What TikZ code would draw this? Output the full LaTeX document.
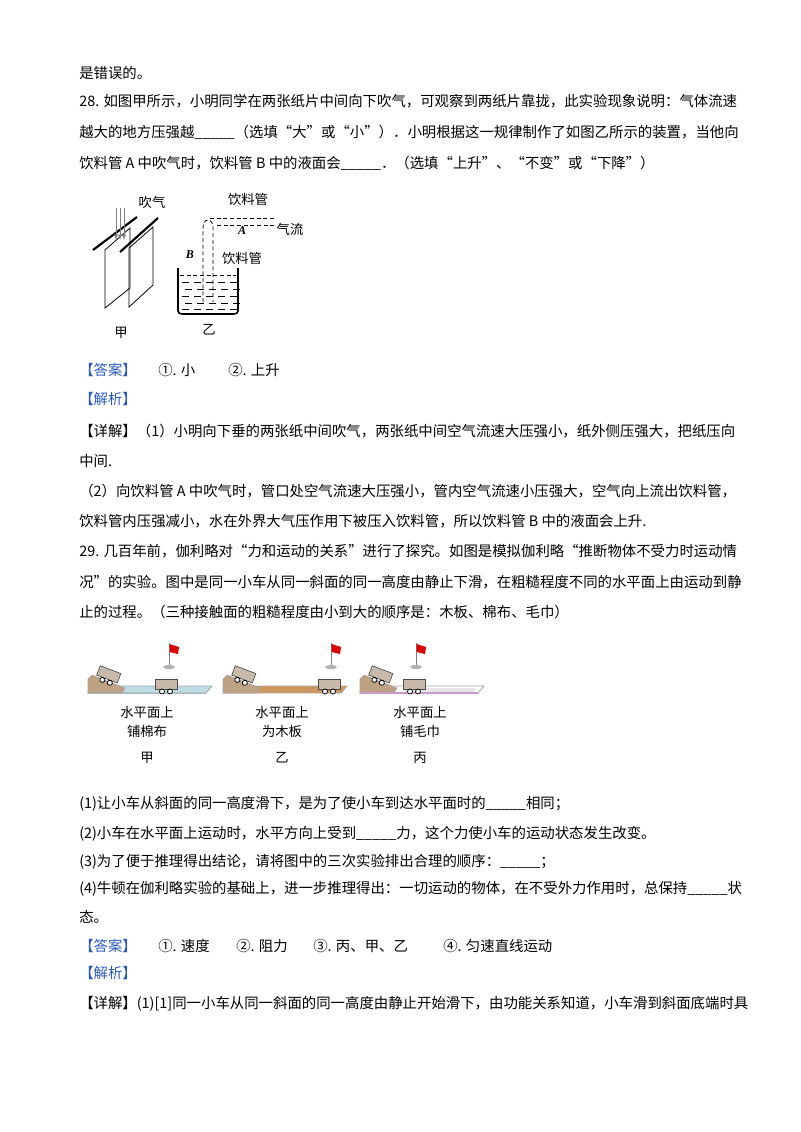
\documentclass[tikz,border=0pt]{standalone}
\usepackage{fontspec}
\setmainfont{Noto Sans CJK SC}
\newfontfamily\latin{Liberation Serif}
\definecolor{ansblue}{RGB}{40,90,190}
\definecolor{board}{RGB}{190,220,228}
\definecolor{wood}{RGB}{205,150,95}
\definecolor{ramp}{RGB}{190,160,130}
\definecolor{carc}{RGB}{200,185,170}
\begin{document}
\begin{tikzpicture}[x=0.75pt,y=-0.75pt,
  ln/.style={anchor=west,inner sep=0pt,font=\fontsize{10.8}{12}\selectfont},
  lab/.style={inner sep=0pt,font=\fontsize{10}{12}\selectfont},
  dsh/.style={densely dashed,line width=0.6pt}]
\useasboundingbox (0,0) rectangle (800,1132);
\newcommand\bl{\_\_\_\_\_}
\node[ln] (t1) at (79,73) {是错误的。};
\node[ln] (t2) at (79,101) {28. 如图甲所示，小明同学在两张纸片中间向下吹气，可观察到两纸片靠拢，此实验现象说明：气体流速};
\node[ln] (t3) at (79,132) {越大的地方压强越\bl（选填“大”或“小”）．小明根据这一规律制作了如图乙所示的装置，当他向};
\node[ln] (t4) at (79,163) {饮料管 A 中吹气时，饮料管 B 中的液面会\bl．（选填“上升”、“不变”或“下降”）};
\node[ln,text=ansblue] (a1) at (79,370) {【答案】};
\node[ln] (a1b) at (158,370) {①. 小};
\node[ln] (a1c) at (228,370) {②. 上升};
\node[ln,text=ansblue] (j1) at (79,399) {【解析】};
\node[ln] (d1) at (79,431) {【详解】（1）小明向下垂的两张纸中间吹气，两张纸中间空气流速大压强小，纸外侧压强大，把纸压向};
\node[ln] (d2) at (79,461) {中间.};
\node[ln] (d3) at (79,491) {（2）向饮料管 A 中吹气时，管口处空气流速大压强小，管内空气流速小压强大，空气向上流出饮料管，};
\node[ln] (d4) at (79,521) {饮料管内压强减小，水在外界大气压作用下被压入饮料管，所以饮料管 B 中的液面会上升.};
\node[ln] (q1) at (79,551) {29. 几百年前，伽利略对“力和运动的关系”进行了探究。如图是模拟伽利略“推断物体不受力时运动情};
\node[ln] (q2) at (79,582) {况”的实验。图中是同一小车从同一斜面的同一高度由静止下滑，在粗糙程度不同的水平面上由运动到静};
\node[ln] (q3) at (79,612) {止的过程。（三种接触面的粗糙程度由小到大的顺序是：木板、棉布、毛巾）};
\node[ln] (s1) at (79,804) {(1)让小车从斜面的同一高度滑下，是为了使小车到达水平面时的\bl 相同；};
\node[ln] (s2) at (79,834) {(2)小车在水平面上运动时，水平方向上受到\bl 力，这个力使小车的运动状态发生改变。};
\node[ln] (s3) at (79,862) {(3)为了便于推理得出结论，请将图中的三次实验排出合理的顺序：\bl；};
\node[ln] (s4) at (79,889) {(4)牛顿在伽利略实验的基础上，进一步推理得出：一切运动的物体，在不受外力作用时，总保持\bl 状};
\node[ln] (s5) at (79,917) {态。};
\node[ln,text=ansblue] (a2) at (79,946) {【答案】};
\node[ln] (a2b) at (158,946) {①. 速度};
\node[ln] (a2c) at (236,946) {②. 阻力};
\node[ln] (a2d) at (313,946) {③. 丙、甲、乙};
\node[ln] (a2e) at (443,946) {④. 匀速直线运动};
\node[ln,text=ansblue] (j2) at (79,973) {【解析】};
\node[ln] (d5) at (79,1004) {【详解】(1)[1]同一小车从同一斜面的同一高度由静止开始滑下，由功能关系知道，小车滑到斜面底端时具};
% ---- figure 甲
\draw[line width=0.6pt] (105,250) -- (130,228) -- (130,288) -- (105,308) -- cycle;
\draw[line width=0.6pt] (129,248) -- (153,227) -- (153,285) -- (129,307) -- cycle;
\draw[line width=1.6pt] (93,250) -- (137,217);
\draw[line width=1.6pt] (120,252) -- (158,218);
\foreach \x in {116,120,124}{\draw[line width=0.4pt,gray,-latex] (\x,208) -- (\x,240);}
\node[lab] (blow) at (152,202) {吹气};
\node[lab] (jia) at (121,333) {甲};
% ---- figure 乙
\draw[line width=1.2pt] (178,268) -- (178,311) to[out=-90,in=180] (182,314) -- (234,314) to[out=0,in=-90] (238,311) -- (238,268);
\draw[dsh] (180,275) -- (236,275);
\foreach \yy/\s in {282/0,289/3,296/0,303/3,309/0}{
  \foreach \xx in {182,194,...,230}{\draw[line width=0.5pt] (\xx+\s,\yy) -- (\xx+\s+7,\yy);}}
\draw[dsh] (203,302) -- (203,228) to[out=90,in=180] (208,220) to[out=0,in=90] (213,228) -- (213,302);
\draw[dsh] (210,218) -- (275,218);
\draw[dsh] (217,225) -- (275,225);
\node[lab] (tubeA) at (248,199) {饮料管};
\node[lab] (flow) at (290,229) {气流};
\node[lab,font=\latin\bfseries\itshape\small] (A) at (242,231) {A};
\node[lab,font=\latin\bfseries\itshape\small] (B) at (190,255) {B};
\node[lab] (tubeB) at (242,258) {饮料管};
\node[lab] (yi) at (209,330) {乙};
% ---- figure 29
\newcommand\car[3]{% x y angle
  \begin{scope}[shift={(#1,#2)},rotate=#3]
   \fill[carc,draw=black!70,line width=0.5pt] (-11,-10) rectangle (11,0);
   \draw[line width=0.6pt,fill=white] (-4,2.5) circle (2.5) (4,2.5) circle (2.5);
  \end{scope}}
\newcommand\flag[1]{%
  \fill[gray!60] (#1,667) ellipse (6 and 2);
  \draw[gray,line width=0.6pt] (#1,665) -- (#1,643);
  \fill[red!85!black] (#1+0.5,644) -- (#1+10,647) -- (#1+9,654) -- (#1+0.5,652) -- cycle;}
\foreach \o/\c in {0/board,135/wood,272/white}{
  \begin{scope}[shift={(\o,0)}]
   \fill[\c,draw=gray!70,line width=0.6pt] (92,686) -- (212,686) -- (206,693) -- (88,693) -- cycle;
   \fill[ramp,draw=gray!70,line width=0.4pt] (88,693) -- (88,679) -- (92,675) -- (125,688) -- (122,693) -- cycle;
  \end{scope}}
\fill[gray!20] (405,688) rectangle (475,692);
\draw[board!60!gray,line width=0.6pt] (88,693) -- (206,693);
\draw[violet!40,line width=0.8pt] (360,693) -- (478,693);
\car{107}{679}{-21}
\car{242}{679}{-21}
\car{379}{679}{-21}
\car{166}{689}{0}
\car{329}{689}{0}
\car{414}{689}{0}
\flag{169}\flag{331}\flag{416}
\node[lab] (l1a) at (147,712) {水平面上};
\node[lab] (l1b) at (147,731) {铺棉布};
\node[lab] (l1c) at (147,758) {甲};
\node[lab] (l2a) at (282,712) {水平面上};
\node[lab] (l2b) at (282,731) {为木板};
\node[lab] (l2c) at (282,758) {乙};
\node[lab] (l3a) at (420,712) {水平面上};
\node[lab] (l3b) at (420,731) {铺毛巾};
\node[lab] (l3c) at (420,758) {丙};
\end{tikzpicture}
\end{document}
